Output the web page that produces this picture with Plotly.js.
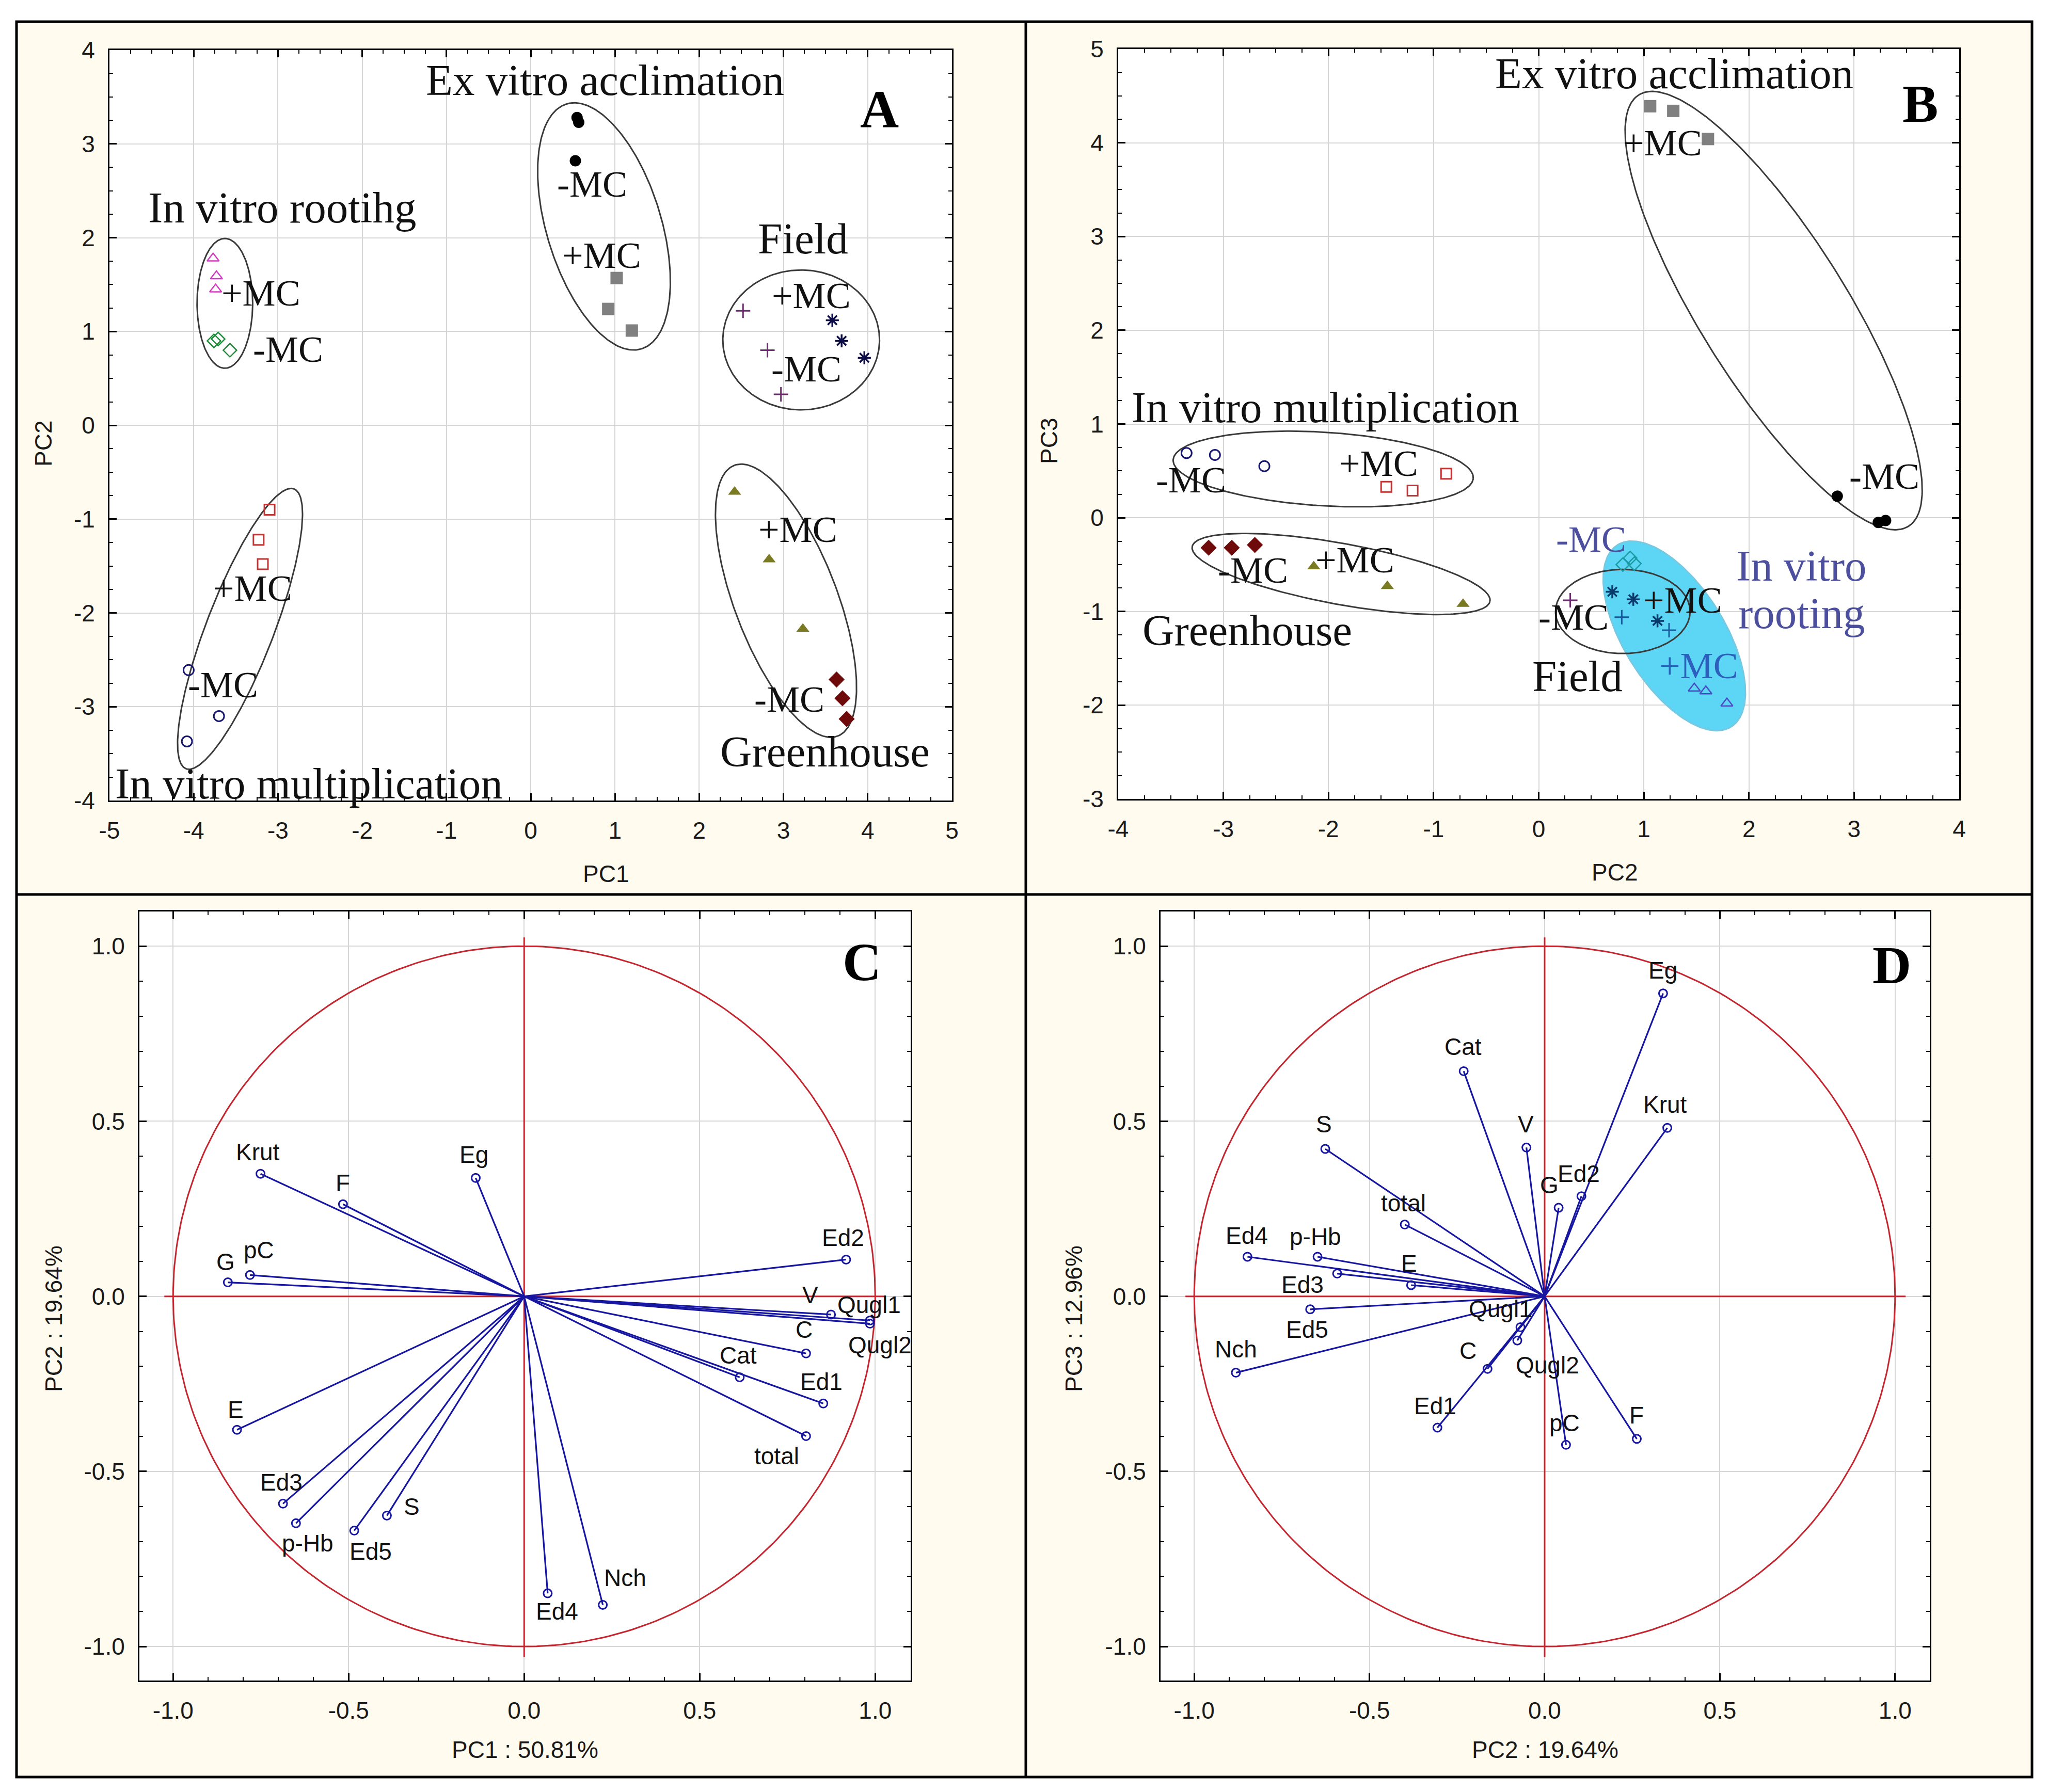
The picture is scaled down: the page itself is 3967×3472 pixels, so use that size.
<!DOCTYPE html>
<html><head><meta charset="utf-8">
<script src="https://cdn.plot.ly/plotly-3.0.1.min.js"></script>
<style>html,body{margin:0;padding:0;background:#fff}</style>
</head><body><div id="chart" style="width:3967px;height:3472px"></div>
<script>
// ---------------- Panel A : scores PC1 x PC2 ----------------
const aRootPlusX = [-3.77, -3.73, -3.74], aRootPlusY = [1.78, 1.59, 1.45];
const aRootMinusX = [-3.76, -3.71, -3.57], aRootMinusY = [0.90, 0.92, 0.80];
const aExMinusX = [0.55, 0.57, 0.53], aExMinusY = [3.28, 3.23, 2.82];
const aExPlusX = [1.02, 0.92, 1.20], aExPlusY = [1.57, 1.24, 1.01];
const aFieldCrossX = [2.52, 2.81, 2.97], aFieldCrossY = [1.22, 0.80, 0.33];
const aFieldStarX = [3.58, 3.69, 3.96], aFieldStarY = [1.12, 0.90, 0.72];
const aGreenPlusX = [2.42, 2.83, 3.23], aGreenPlusY = [-0.71, -1.43, -2.17];
const aGreenMinusX = [3.63, 3.70, 3.75], aGreenMinusY = [-2.71, -2.91, -3.13];
const aMultPlusX = [-3.10, -3.23, -3.18], aMultPlusY = [-0.90, -1.22, -1.48];
const aMultMinusX = [-4.06, -3.70, -4.08], aMultMinusY = [-2.61, -3.10, -3.37];
// group ellipses A (centre, semi-axes in x units, angle)
const aEllCx = [-3.63, 0.87, 3.21, 3.03, -3.45];
const aEllCy = [1.30, 2.12, 0.91, -1.87, -2.17];
const aEllA = [0.77, 1.52, 0.93, 1.72, 1.78];
const aEllB = [0.33, 0.68, 0.83, 0.61, 0.40];
const aEllAng = [90, 107, 0, 110.9, 68.9];
// labels A
const aLabText = ['Ex vitro acclimation','In vitro rootihg','+MC','-MC','-MC','+MC','Field','+MC','-MC','+MC','-MC','Greenhouse','+MC','-MC','In vitro multiplication'];
const aLabX = [0.88, -2.95, -3.20, -2.88, 0.73, 0.84, 3.23, 3.33, 3.27, 3.17, 3.07, 3.49, -3.30, -3.65, -2.63];
const aLabY = [3.68, 2.32, 1.41, 0.81, 2.57, 1.81, 1.99, 1.38, 0.60, -1.11, -2.92, -3.48, -1.74, -2.77, -3.82];

// ---------------- Panel B : scores PC2 x PC3 ----------------
const bExPlusX = [1.06, 1.28, 1.61], bExPlusY = [4.39, 4.34, 4.04];
const bExMinusX = [2.84, 3.23, 3.30], bExMinusY = [0.23, -0.05, -0.03];
const bMultMinusX = [-3.35, -3.08, -2.61], bMultMinusY = [0.69, 0.67, 0.55];
const bMultPlusX = [-1.45, -1.20, -0.88], bMultPlusY = [0.33, 0.29, 0.47];
const bGreenMinusX = [-3.14, -2.92, -2.70], bGreenMinusY = [-0.32, -0.32, -0.29];
const bGreenPlusX = [-2.14, -1.44, -0.72], bGreenPlusY = [-0.52, -0.73, -0.92];
const bFieldCrossX = [0.30, 0.79, 1.24], bFieldCrossY = [-0.88, -1.06, -1.20];
const bFieldStarX = [0.70, 0.90, 1.13], bFieldStarY = [-0.79, -0.87, -1.10];
const bRootMinusX = [0.80, 0.87, 0.91], bRootMinusY = [-0.50, -0.43, -0.49];
const bRootPlusX = [1.48, 1.59, 1.79], bRootPlusY = [-1.82, -1.85, -1.98];
const bEllCx = [2.235, -2.05, -1.88, 0.80, 1.29];
const bEllCy = [2.21, 0.52, -0.60, -1.0, -1.26];
const bEllA = [2.42, 1.43, 1.44, 0.64, 1.02];
const bEllB = [0.70, 0.35, 0.29, 0.40, 0.48];
const bEllAng = [122, -3.5, -10.4, 0, 122];
const bLabText = ['Ex vitro acclimation','+MC','-MC','In vitro multiplication','+MC','-MC','-MC','+MC','Greenhouse','+MC','-MC','Field'];
const bLabX = [1.29, 1.18, 3.29, -2.03, -1.52, -3.31, -2.72, -1.75, -2.77, 1.37, 0.33, 0.37];
const bLabY = [4.74, 4.00, 0.44, 1.18, 0.58, 0.40, -0.56, -0.45, -1.20, -0.88, -1.06, -1.69];
const bBlueText = ['-MC','In vitro','rooting','+MC'];
const bBlueX = [0.50, 2.50, 2.50, 1.52];
const bBlueY = [-0.23, -0.51, -1.02, -1.58];

// ---------------- Panels C, D : loadings ----------------
const vars = ['Krut','F','Eg','G','pC','Ed2','V','Qugl1','Qugl2','C','Cat','Ed1','total','E','Ed3','p-Hb','Ed5','S','Ed4','Nch'];
const pc1 = [-0.751,-0.516,-0.138,-0.844,-0.781,0.917,0.874,0.985,0.985,0.803,0.614,0.852,0.803,-0.818,-0.687,-0.650,-0.484,-0.391,0.067,0.224];
const pc2 = [0.350,0.263,0.338,0.040,0.061,0.105,-0.052,-0.069,-0.078,-0.163,-0.231,-0.306,-0.399,-0.381,-0.592,-0.648,-0.669,-0.626,-0.848,-0.881];
const pc3 = [0.481,-0.407,0.865,0.253,-0.424,0.286,0.425,-0.088,-0.126,-0.207,0.643,-0.375,0.205,0.032,0.065,0.113,-0.037,0.421,0.113,-0.218];
// label offsets (screen px) for C and D
const cOffX = [-5,0,-3,-4,17,-6,-40,-2,19,-4,-3,-4,-57,-3,-3,23,32,48,18,43];
const cOffY = [-42,-41,-45,-40,-48,-42,-38,-31,41,-46,-42,-42,39,-39,-41,39,40,-17,35,-52];
const dOffX = [-4,-1,0,-18,-3,-5,-1,-39,58,-38,-1,-4,-3,-4,-67,-4,-6,-3,-1,0];
const dOffY = [-45,-46,-45,-44,-42,-44,-45,-35,48,-35,-47,-42,-42,-42,21,-39,39,-48,-41,-46];

// tick labels and axis titles
const aXTicks = [-5,-4,-3,-2,-1,0,1,2,3,4,5];
const aYTicks = [-4,-3,-2,-1,0,1,2,3,4];
const bXTicks = [-4,-3,-2,-1,0,1,2,3,4];
const bYTicks = [-3,-2,-1,0,1,2,3,4,5];
const cdTicks = [-1,-0.5,0,0.5,1];
const cdTickText = ['-1.0','-0.5','0.0','0.5','1.0'];
const axisTitles = ['PC1','PC2','PC2','PC3','PC1 : 50.81%','PC2 : 19.64%','PC2 : 19.64%','PC3 : 12.96%'];

// ---------------- geometry ----------------
const W = 3967, H = 3472;
const boxA = {x:[212,1844], y:[97,1551], rx:[-5,5], ry:[-4,4]};
const boxB = {x:[2166,3795], y:[95,1548], rx:[-4,4], ry:[-3,5]};
const boxC = {x:[270,1764], y:[1766,3256], rx:[-1.096,1.101], ry:[-1.097,1.099]};
const boxD = {x:[2248,3738], y:[1766,3256], rx:[-1.096,1.099], ry:[-1.097,1.099]};
const dx = b => [b.x[0]/W, b.x[1]/W];
const dy = b => [1 - b.y[1]/H, 1 - b.y[0]/H];
const kRatio = b => ((b.y[1]-b.y[0])/(b.ry[1]-b.ry[0])) / ((b.x[1]-b.x[0])/(b.rx[1]-b.rx[0]));

function ellipse(cx, cy, a, b, ang, k){
  const xs=[], ys=[], th=ang*Math.PI/180;
  for(let i=0;i<=240;i++){
    const t=i/240*2*Math.PI;
    const X=a*Math.cos(t)*Math.cos(th)-b*Math.sin(t)*Math.sin(th);
    const Y=a*Math.cos(t)*Math.sin(th)+b*Math.sin(t)*Math.cos(th);
    xs.push(cx+X); ys.push(cy+Y/k);
  }
  return {xs, ys};
}

const traces = [];
const ELL = '#3a3a3a';
function addEllipses(cx, cy, A, B, ang, k, xa, ya, skip){
  for(let i=0;i<cx.length;i++){
    if (skip === i) continue;
    const e = ellipse(cx[i],cy[i],A[i],B[i],ang[i],k);
    traces.push({x:e.xs,y:e.ys,xaxis:xa,yaxis:ya,mode:'lines',line:{color:ELL,width:3},hoverinfo:'skip',showlegend:false});
  }
}
function pts(x,y,xa,ya,symbol,color,size,lw){
  const m = {symbol:symbol,size:size,color:color,line:{color:color,width:lw}};
  traces.push({x:x,y:y,xaxis:xa,yaxis:ya,mode:'markers',marker:m,showlegend:false,hoverinfo:'x+y'});
}

// Panel A
const kA = kRatio(boxA);
addEllipses(aEllCx,aEllCy,aEllA,aEllB,aEllAng,kA,'x','y');
pts(aRootPlusX,aRootPlusY,'x','y','triangle-up-open','#d23cc0',20,2.5);
pts(aRootMinusX,aRootMinusY,'x','y','diamond-open','#1f8a3a',20,2.5);
pts(aExMinusX,aExMinusY,'x','y','circle','#000000',22,0);
pts(aExPlusX,aExPlusY,'x','y','square','#808080',24,0);
pts(aFieldCrossX,aFieldCrossY,'x','y','cross-thin-open','#6e2a6e',20,3);
pts(aFieldStarX,aFieldStarY,'x','y','asterisk-open','#0c0c46',21,3.5);
pts(aGreenPlusX,aGreenPlusY,'x','y','triangle-up','#7a7a22',22,0);
pts(aGreenMinusX,aGreenMinusY,'x','y','diamond','#6e0a0a',24,0);
pts(aMultPlusX,aMultPlusY,'x','y','square-open','#c03434',20,3);
pts(aMultMinusX,aMultMinusY,'x','y','circle-open','#16166e',20,3);

// Panel B
const kB = kRatio(boxB);
{
  const e = ellipse(bEllCx[4],bEllCy[4],bEllA[4],bEllB[4],bEllAng[4],kB);
  traces.push({x:e.xs,y:e.ys,xaxis:'x2',yaxis:'y2',mode:'lines',fill:'toself',fillcolor:'rgb(92,214,244)',line:{color:'rgb(120,200,225)',width:3},hoverinfo:'skip',showlegend:false});
}
addEllipses(bEllCx,bEllCy,bEllA,bEllB,bEllAng,kB,'x2','y2',4);
pts(bExPlusX,bExPlusY,'x2','y2','square','#808080',24,0);
pts(bExMinusX,bExMinusY,'x2','y2','circle','#000000',22,0);
pts(bMultMinusX,bMultMinusY,'x2','y2','circle-open','#16166e',20,3);
pts(bMultPlusX,bMultPlusY,'x2','y2','square-open','#c03434',20,3);
pts(bGreenMinusX,bGreenMinusY,'x2','y2','diamond','#6e0a0a',24,0);
pts(bGreenPlusX,bGreenPlusY,'x2','y2','triangle-up','#7a7a22',22,0);
const bCrossCol = ['#6e2a6e','#175c9c','#175c9c'];
traces.push({x:bFieldCrossX,y:bFieldCrossY,xaxis:'x2',yaxis:'y2',mode:'markers',showlegend:false,
  marker:{symbol:'cross-thin-open',size:20,color:bCrossCol,line:{color:bCrossCol,width:3}}});
pts(bFieldStarX,bFieldStarY,'x2','y2','asterisk-open','#083a6c',21,3.5);
pts(bRootMinusX,bRootMinusY,'x2','y2','diamond-open','#1a9aa4',20,2.5);
pts(bRootPlusX,bRootPlusY,'x2','y2','triangle-up-open','#4a4ac4',20,2.5);

// Panels C and D
const RED = 'rgb(196,38,48)', BLUE = 'rgb(22,22,160)';
function loadingPanel(xv, yv, xa, ya){
  const cx=[], cy=[];
  for(let i=0;i<=360;i++){ cx.push(Math.cos(i*Math.PI/180)); cy.push(Math.sin(i*Math.PI/180)); }
  traces.push({x:cx,y:cy,xaxis:xa,yaxis:ya,mode:'lines',line:{color:RED,width:3},hoverinfo:'skip',showlegend:false});
  traces.push({x:[-1.025,1.03,null,0,0],y:[0,0,null,-1.03,1.025],xaxis:xa,yaxis:ya,mode:'lines',line:{color:RED,width:3},hoverinfo:'skip',showlegend:false});
  const lx=[], ly=[];
  for(let i=0;i<xv.length;i++){ lx.push(0,xv[i],null); ly.push(0,yv[i],null); }
  traces.push({x:lx,y:ly,xaxis:xa,yaxis:ya,mode:'lines',line:{color:BLUE,width:3.2},hoverinfo:'skip',showlegend:false});
  traces.push({x:xv,y:yv,text:vars,xaxis:xa,yaxis:ya,mode:'markers',
    marker:{symbol:'circle-open',size:16,color:BLUE,line:{color:BLUE,width:3}},showlegend:false});
}
loadingPanel(pc1,pc2,'x3','y3');
loadingPanel(pc2,pc3,'x4','y4');

// ---------------- layout ----------------
const tickFont = {family:'Liberation Sans, Arial, sans-serif', size:46, color:'#1a1a1a'};
const titleFont = {family:'Liberation Sans, Arial, sans-serif', size:46, color:'#1a1a1a'};
function axis(box, which, tickvals, ticktext, minorD){
  const isX = which==='x';
  return {
    domain: isX ? dx(box) : dy(box),
    range: isX ? box.rx : box.ry,
    tickmode:'array', tickvals:tickvals, ticktext:ticktext,
    showgrid:true, gridcolor:'#d6d6d6', gridwidth:2, zeroline:false,
    showline:true, linecolor:'#000', linewidth:3, mirror:'allticks',
    ticks:'inside', ticklen:14, tickwidth:3, tickcolor:'#000',
    minor:{ticks:'inside', ticklen:7, tickwidth:2, tickcolor:'#000', dtick:minorD, showgrid:false},
    tickfont:tickFont, ticklabelstandoff:16,
    title:{text:''},
    fixedrange:true
  };
}
const num = a => a.map(v => String(v));

const annotations = [];
const serif = 'Liberation Serif, Times New Roman, serif';
aLabText.forEach((t,i)=>{
  const big = !t.includes('MC');
  annotations.push({xref:'x',yref:'y',x:aLabX[i],y:aLabY[i],text:t,showarrow:false,xanchor:'center',yanchor:'middle',
    font:{family:serif,size:big?85:72,color:'#111'}});
});
bLabText.forEach((t,i)=>{
  const big = !t.includes('MC');
  annotations.push({xref:'x2',yref:'y2',x:bLabX[i],y:bLabY[i],text:t,showarrow:false,xanchor:'center',yanchor:'middle',
    font:{family:serif,size:big?85:72,color:'#111'}});
});
bBlueText.forEach((t,i)=>{
  const big = !t.includes('MC');
  annotations.push({xref:'x2',yref:'y2',x:bBlueX[i],y:bBlueY[i],text:t,showarrow:false,xanchor:'center',yanchor:'middle',
    font:{family:serif,size:big?85:72,color: i===3 ? '#2d5fbf' : '#4b4f9e'}});
});
const panelLetters = [['A','x','y',4.14,3.37],['B','x2','y2',3.63,4.42],['C','x3','y3',0.962,0.956],['D','x4','y4',0.99,0.947]];
panelLetters.forEach(p=>annotations.push({xref:p[1],yref:p[2],x:p[3],y:p[4],text:'<b>'+p[0]+'</b>',showarrow:false,
  xanchor:'center',yanchor:'middle',font:{family:serif,size:104,color:'#000'}}));
const labFont = {family:'Liberation Sans, Arial, sans-serif', size:46, color:'#111'};
vars.forEach((v,i)=>{
  annotations.push({xref:'x3',yref:'y3',x:pc1[i],y:pc2[i],text:v,showarrow:false,xshift:cOffX[i],yshift:-cOffY[i],font:labFont});
  annotations.push({xref:'x4',yref:'y4',x:pc2[i],y:pc3[i],text:v,showarrow:false,xshift:dOffX[i],yshift:-dOffY[i],font:labFont});
});
// axis titles (placed where the original software put them)
const titlePos = [[1173,1693,0],[84,860,-90],[3127,1690,0],[2032,855,-90],[1017,3390,0],[104,2555,-90],[2993,3390,0],[2080,2555,-90]];
axisTitles.forEach((t,i)=>annotations.push({xref:'paper',yref:'paper',x:titlePos[i][0]/W,y:1-titlePos[i][1]/H,text:t,
  textangle:titlePos[i][2],showarrow:false,xanchor:'center',yanchor:'middle',font:titleFont}));

const shapes = [
  {type:'rect',xref:'paper',yref:'paper',x0:32/W,x1:3936/W,y0:1-3443/H,y1:1-42/H,fillcolor:'#fffbef',line:{color:'#000',width:5},layer:'below'}
];
[boxA,boxB,boxC,boxD].forEach(b=>shapes.push({type:'rect',xref:'paper',yref:'paper',x0:dx(b)[0],x1:dx(b)[1],y0:dy(b)[0],y1:dy(b)[1],fillcolor:'#ffffff',line:{width:0},layer:'below'}));
shapes.push({type:'line',xref:'paper',yref:'paper',x0:1987/W,x1:1987/W,y0:1-3443/H,y1:1-42/H,line:{color:'#000',width:5}});
shapes.push({type:'line',xref:'paper',yref:'paper',x0:32/W,x1:3936/W,y0:1-1733/H,y1:1-1733/H,line:{color:'#000',width:5}});

const layout = {
  width:W, height:H, margin:{l:0,r:0,t:0,b:0},
  paper_bgcolor:'#ffffff', plot_bgcolor:'#ffffff', showlegend:false,
  xaxis: axis(boxA,'x',aXTicks,num(aXTicks),0.25),
  yaxis: axis(boxA,'y',aYTicks,num(aYTicks),0.25),
  xaxis2: axis(boxB,'x',bXTicks,num(bXTicks),0.25),
  yaxis2: axis(boxB,'y',bYTicks,num(bYTicks),0.25),
  xaxis3: axis(boxC,'x',cdTicks,cdTickText,0.1),
  yaxis3: axis(boxC,'y',cdTicks,cdTickText,0.1),
  xaxis4: axis(boxD,'x',cdTicks,cdTickText,0.1),
  yaxis4: axis(boxD,'y',cdTicks,cdTickText,0.1),
  annotations:annotations, shapes:shapes
};
layout.xaxis.anchor='y'; layout.yaxis.anchor='x';
layout.xaxis2.anchor='y2'; layout.yaxis2.anchor='x2';
layout.xaxis3.anchor='y3'; layout.yaxis3.anchor='x3';
layout.xaxis4.anchor='y4'; layout.yaxis4.anchor='x4';

Plotly.newPlot('chart', traces, layout, {displayModeBar:false, staticPlot:true});
</script>
</body></html>
